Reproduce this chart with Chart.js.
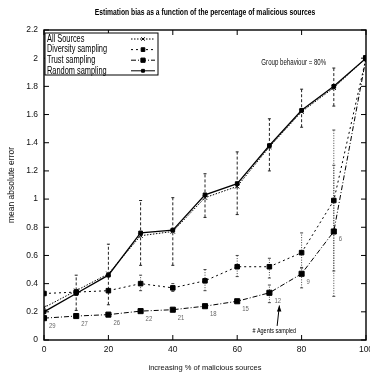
<!DOCTYPE html>
<html>
<head>
<meta charset="utf-8">
<script src="https://cdn.jsdelivr.net/npm/chart.js@4.4.1/dist/chart.umd.min.js"></script>
<style>
    html, body { margin: 0; padding: 0; background: #fff; overflow: hidden; }
    #bias-chart { display: block; width: 380px; height: 372px; }
</style>
</head>
<body>
<canvas id="bias-chart" width="380" height="372"></canvas>
<script>
// % of malicious sources
const xValues = [0, 10, 20, 30, 40, 50, 60, 70, 80, 90, 100];
const xTicks = [0, 20, 40, 60, 80, 100];
const yTicks = [0, 0.2, 0.4, 0.6, 0.8, 1, 1.2, 1.4, 1.6, 1.8, 2, 2.2];

const seriesNames = ["All Sources", "Diversity sampling", "Trust sampling", "Random sampling"];

const allSources = [0.23, 0.35, 0.47, 0.74, 0.77, 1.01, 1.09, 1.37, 1.62, 1.79, 2.0];
const diversitySampling = [0.33, 0.34, 0.35, 0.40, 0.37, 0.42, 0.52, 0.52, 0.62, 0.99, 2.0];
const trustSampling = [0.155, 0.17, 0.18, 0.205, 0.215, 0.24, 0.275, 0.335, 0.47, 0.77, 2.0];
const randomSampling = [0.20, 0.33, 0.46, 0.76, 0.78, 1.03, 1.11, 1.38, 1.63, 1.80, 2.0];

// error bars (null = none)
const randomLow = [null, 0.21, 0.25, 0.53, 0.53, 0.87, 0.89, 1.20, 1.51, 1.66, null];
const randomHigh = [null, 0.46, 0.68, 0.99, 1.01, 1.18, 1.335, 1.57, 1.78, 1.93, null];
const diversityLow = [null, null, null, 0.35, 0.345, 0.35, 0.45, 0.44, 0.51, 0.31, null];
const diversityHigh = [null, null, null, 0.46, 0.40, 0.50, 0.60, 0.58, 0.76, 1.49, null];
const trustLow = [null, null, null, null, null, null, null, 0.265, 0.37, 0.49, null];
const trustHigh = [null, null, null, null, null, null, null, 0.39, 0.515, 1.24, null];

// number of agents sampled by trust sampling
const agentsSampled = [29, 27, 26, 22, 21, 18, 15, 12, 9, 6];

const FONT = "'Liberation Sans', Arial, sans-serif";
const TITLE = 'Estimation bias as a function of the percentage of malicious sources';

function toPoints(values) {
    return values.map((v, i) => ({ x: xValues[i], y: v }));
}

const styles = [
    { data: allSources, borderDash: [1.5, 1.5], pointStyle: 'crossRot', pointRadius: 3, borderWidth: 1 },
    { data: diversitySampling, borderDash: [2, 3], pointStyle: 'rect', pointRadius: 3.2, borderWidth: 1 },
    { data: trustSampling, borderDash: [5, 2, 1, 2], pointStyle: 'rect', pointRadius: 3.6, borderWidth: 1 },
    { data: randomSampling, borderDash: [], pointStyle: 'rect', pointRadius: 2.6, borderWidth: 1.3 },
];

function line(ctx, x1, y1, x2, y2) {
    ctx.beginPath();
    ctx.moveTo(x1, y1);
    ctx.lineTo(x2, y2);
    ctx.stroke();
}

// the original uses a condensed face, so squeeze the text horizontally
function narrowText(ctx, text, x, y, sx) {
    ctx.save();
    ctx.translate(x, y);
    ctx.scale(sx, 1);
    ctx.fillText(text, 0, 0);
    ctx.restore();
}

const decorations = {
    id: 'decorations',
    beforeDatasetsDraw(chart) {
        const { ctx, chartArea: a, scales: { x, y } } = chart;
        ctx.save();
        ctx.strokeStyle = '#000';
        ctx.lineWidth = 1;
        for (const v of xTicks) {
            const px = x.getPixelForValue(v);
            line(ctx, px, a.bottom, px, a.bottom - 5);
            line(ctx, px, a.top, px, a.top + 5);
        }
        for (const v of yTicks) {
            const py = y.getPixelForValue(v);
            line(ctx, a.left, py, a.left + 5, py);
            line(ctx, a.right, py, a.right - 5, py);
        }

        const bars = [
            [randomLow, randomHigh, [3, 2], '#222'],
            [diversityLow, diversityHigh, [1, 1.5], '#444'],
            [trustLow, trustHigh, [1, 1.5], '#444'],
        ];
        for (const [lo, hi, dash, color] of bars) {
            ctx.strokeStyle = color;
            for (let i = 0; i < xValues.length; i++) {
                if (lo[i] === null) continue;
                const px = x.getPixelForValue(xValues[i]);
                const p1 = y.getPixelForValue(lo[i]);
                const p2 = y.getPixelForValue(hi[i]);
                ctx.setLineDash(dash);
                line(ctx, px, p1, px, p2);
                ctx.setLineDash([]);
                line(ctx, px - 1.5, p1, px + 1.5, p1);
                line(ctx, px - 1.5, p2, px + 1.5, p2);
            }
        }
        ctx.restore();
    },
    afterDatasetsDraw(chart) {
        const { ctx, chartArea: a, scales: { x, y } } = chart;
        ctx.save();

        // frame
        ctx.strokeStyle = '#000';
        ctx.lineWidth = 1.4;
        ctx.strokeRect(a.left, a.top, a.right - a.left, a.bottom - a.top);

        // title
        ctx.fillStyle = '#000';
        ctx.font = 'bold 9px ' + FONT;
        ctx.textAlign = 'center';
        ctx.textBaseline = 'middle';
        narrowText(ctx, TITLE, (a.left + a.right) / 2, 13, 0.75);

        // agent counts
        ctx.fillStyle = '#666';
        ctx.font = '7px ' + FONT;
        ctx.textAlign = 'left';
        agentsSampled.forEach((n, i) => {
            const px = x.getPixelForValue(xValues[i]);
            const py = y.getPixelForValue(trustSampling[i]);
            narrowText(ctx, String(n), px + 5, py + 8, 0.85);
        });

        // "# Agents sampled" arrow
        ctx.fillStyle = '#000';
        ctx.textAlign = 'center';
        ctx.font = '7px ' + FONT;
        narrowText(ctx, '# Agents sampled', x.getPixelForValue(71.5), y.getPixelForValue(0.063), 0.78);
        const ax1 = x.getPixelForValue(72.4), ay1 = y.getPixelForValue(0.1);
        const ax2 = x.getPixelForValue(73.1), ay2 = y.getPixelForValue(0.245);
        ctx.strokeStyle = '#000';
        ctx.lineWidth = 1;
        line(ctx, ax1, ay1, ax2, ay2);
        ctx.beginPath();
        ctx.moveTo(ax2, ay2);
        ctx.lineTo(ax2 - 2.5, ay2 + 6);
        ctx.lineTo(ax2 + 2, ay2 + 6);
        ctx.closePath();
        ctx.fill();

        // group behaviour label
        ctx.font = '8.5px ' + FONT;
        ctx.fillStyle = '#111';
        ctx.textAlign = 'left';
        narrowText(ctx, 'Group behaviour = 80%', x.getPixelForValue(67.5), y.getPixelForValue(1.97), 0.72);

        // legend box
        const lx = a.left + 1, ly = a.top + 3, lw = 113, lh = 42;
        ctx.fillStyle = '#fff';
        ctx.fillRect(lx, ly, lw, lh);
        ctx.strokeStyle = '#000';
        ctx.lineWidth = 1;
        ctx.strokeRect(lx, ly, lw, lh);
        ctx.font = '10px ' + FONT;
        seriesNames.forEach((name, i) => {
            const ry = ly + 6 + i * 10.6;
            ctx.fillStyle = '#000';
            ctx.textAlign = 'left';
            narrowText(ctx, name, lx + 2, ry, 0.74);
            const s = styles[i];
            ctx.strokeStyle = '#000';
            ctx.lineWidth = 1;
            ctx.setLineDash(s.borderDash);
            line(ctx, lx + 86, ry, lx + 110, ry);
            ctx.setLineDash([]);
            Chart.helpers.drawPoint(ctx, {
                pointStyle: s.pointStyle, radius: s.pointRadius - 0.6, rotation: 0, borderWidth: 1
            }, lx + 98, ry);
        });

        ctx.restore();
    }
};

const ctx = document.getElementById('bias-chart').getContext('2d');
const biasChart = new Chart(ctx, {
    type: 'line',
    data: {
        datasets: styles.map((s, i) => ({
            label: seriesNames[i],
            data: toPoints(s.data),
            borderColor: '#000',
            backgroundColor: '#000',
            borderWidth: s.borderWidth,
            borderDash: s.borderDash,
            pointStyle: s.pointStyle,
            pointRadius: s.pointRadius,
            pointBorderWidth: 1,
            pointBackgroundColor: '#000',
            pointBorderColor: '#000',
            tension: 0,
            fill: false,
        }))
    },
    options: {
        responsive: false,
        animation: false,
        events: [],
        layout: { padding: { top: 30, right: 14, bottom: 0, left: 0 } },
        plugins: {
            legend: { display: false },
            tooltip: { enabled: false },
            title: { display: false }
        },
        scales: {
            x: {
                type: 'linear',
                min: 0,
                max: 100,
                afterBuildTicks: (scale) => { scale.ticks = xTicks.map(v => ({ value: v })); },
                afterFit: (scale) => { scale.height = 32; },
                grid: { display: false, drawTicks: false },
                border: { display: false },
                ticks: { color: '#111', padding: 5, font: { family: FONT, size: 8.5 } },
                title: {
                    display: true,
                    text: 'increasing % of malicious sources',
                    color: '#111',
                    padding: { top: 4, bottom: 0 },
                    font: { family: FONT, size: 7.5 }
                }
            },
            y: {
                type: 'linear',
                min: 0,
                max: 2.2,
                afterBuildTicks: (scale) => { scale.ticks = yTicks.map(v => ({ value: v })); },
                afterFit: (scale) => { scale.width = 44; },
                grid: { display: false, drawTicks: false },
                border: { display: false },
                ticks: {
                    color: '#111',
                    padding: 6,
                    font: { family: FONT, size: 8.5 },
                    callback: (v) => String(Math.round(v * 10) / 10)
                },
                title: {
                    display: true,
                    text: 'mean absolute error',
                    color: '#111',
                    padding: { top: 7, bottom: 4 },
                    font: { family: FONT, size: 8.5 }
                }
            }
        }
    },
    plugins: [decorations]
});
</script>
</body>
</html>
